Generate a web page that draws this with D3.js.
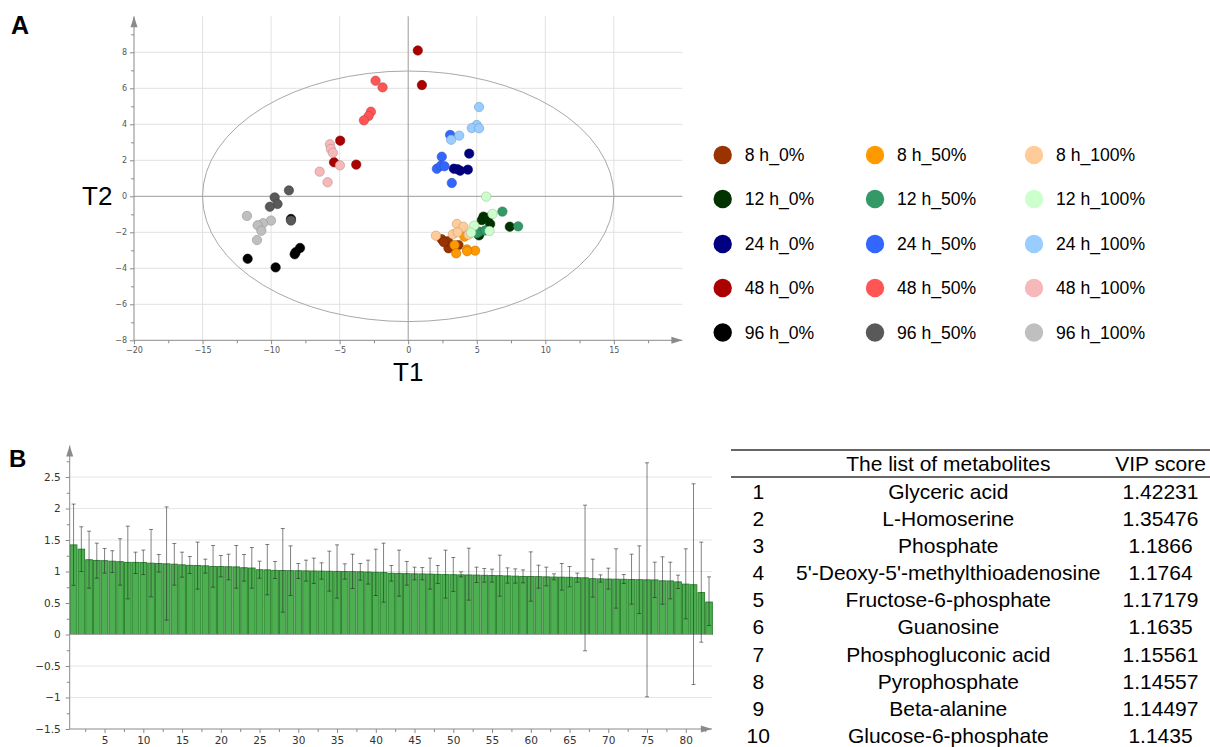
<!DOCTYPE html>
<html lang="en">
<head>
  <meta charset="UTF-8">
  <title>PLS-DA scores and VIP</title>
  <script src="https://cdn.jsdelivr.net/npm/d3@7"></script>
  <style>
    body { margin: 0; background: #fff; }
    svg { display: block; font-family: "Liberation Sans", Arial, sans-serif; }
  </style>
</head>
<body>
  <div id="chart"></div>
  <script>
    // ---- scores plot data ----
    const times = ["8 h", "12 h", "24 h", "48 h", "96 h"];
    const levels = ["0%", "50%", "100%"];
    const groupColors = [
      ["#993300", "#ff9900", "#ffcc99"],
      ["#003300", "#339966", "#ccffcc"],
      ["#000080", "#3366ff", "#99ccff"],
      ["#aa0000", "#ff5555", "#f6b8b8"],
      ["#000000", "#595959", "#bfbfbf"]
    ];
    // [T1, T2] per sample, indexed [time][level]
    const scores = [
      [
        [[2.45, -2.39], [2.94, -2.89], [2.9, -2.5], [3.67, -2.71], [2.6, -2.55]],
        [[3.38, -2.71], [4.28, -2.95], [4.88, -3.02], [3.5, -3.17], [4.1, -2.24], [4.3, -3.05]],
        [[2.02, -2.19], [3.55, -1.54], [4.03, -1.69], [3.26, -2.11], [3.6, -2.0], [4.4, -2.13]]
      ],
      [
        [[7.41, -1.69], [5.49, -1.13], [5.98, -1.54], [5.37, -1.32], [5.17, -2.17], [5.8, -1.2]],
        [[6.87, -0.85], [8.02, -1.67], [5.2, -1.97], [5.6, -1.9], [5.0, -2.05]],
        [[5.69, -0.02], [6.15, -0.98], [4.81, -1.63], [4.59, -2.02], [5.93, -1.93]]
      ],
      [
        [[4.45, 2.37], [3.33, 1.53], [3.79, 1.42], [4.35, 1.48], [3.6, 1.5]],
        [[3.06, 3.41], [2.45, 2.2], [2.09, 1.53], [2.38, 1.7], [2.65, 1.67], [3.18, 0.74]],
        [[5.17, 4.96], [5.0, 3.96], [4.64, 3.79], [5.17, 3.78], [3.72, 3.37], [3.13, 3.14]]
      ],
      [
        [[0.7, 8.1], [1.0, 6.18], [-4.96, 3.09], [-5.41, 1.89], [-3.79, 1.76]],
        [[-2.38, 6.42], [-1.87, 6.05], [-2.72, 4.7], [-2.89, 4.46], [-3.23, 4.22]],
        [[-5.71, 2.89], [-5.64, 2.63], [-5.5, 2.42], [-4.98, 1.72], [-6.46, 1.37], [-5.88, 0.78]]
      ],
      [
        [[-11.71, -3.47], [-9.67, -3.95], [-7.89, -2.87], [-8.21, -3.11], [-8.28, -3.22], [-8.55, -1.26]],
        [[-8.7, 0.33], [-9.74, -0.06], [-9.53, -0.43], [-10.09, -0.58], [-8.55, -1.35]],
        [[-11.76, -1.09], [-10.01, -1.35], [-10.59, -1.5], [-10.98, -1.61], [-10.71, -1.91], [-11.03, -2.43]]
      ]
    ];
    const ellipseT1 = 15, ellipseT2 = 6.96;

    // ---- VIP bar data (83 metabolites) ----
    const vip = [1.42231, 1.35476, 1.1866, 1.1764, 1.17179, 1.1635, 1.15561, 1.14557, 1.14497, 1.1435,
      1.132, 1.127, 1.122, 1.116, 1.106, 1.098, 1.095, 1.09, 1.08, 1.078, 1.075, 1.073, 1.06, 1.055,
      1.028, 1.026, 1.018, 1.016, 1.013, 1.012, 1.01, 1.008, 1.006, 1.004, 1.002, 1.0, 0.998, 0.996,
      0.992, 0.988, 0.986, 0.972, 0.97, 0.966, 0.963, 0.961, 0.959, 0.955, 0.951, 0.949, 0.947, 0.945,
      0.943, 0.94, 0.937, 0.934, 0.93, 0.926, 0.922, 0.92, 0.918, 0.915, 0.912, 0.91, 0.908, 0.902,
      0.9, 0.886, 0.883, 0.88, 0.878, 0.876, 0.873, 0.87, 0.868, 0.866, 0.852, 0.85, 0.835, 0.8,
      0.79, 0.665, 0.515];
    const vipHigh = [2.07, 1.71, 1.64, 1.45, 1.365, 1.33, 1.52, 1.72, 1.307, 1.34, 1.667, 1.27, 2.026, 1.444,
      1.307, 1.238, 1.466, 1.196, 1.413, 1.254, 1.275, 1.413, 1.27, 1.381, 1.164, 1.429, 1.159, 1.683,
      1.407, 1.127, 1.18, 1.212, 1.138, 1.323, 1.423, 1.122, 1.275, 1.127, 1.18, 1.354, 1.45, 1.095,
      1.339, 1.159, 1.069, 1.063, 1.212, 1.095, 1.339, 1.222, 0.995, 1.37, 1.069, 1.048, 1.037, 1.259,
      1.058, 1.042, 1.026, 1.312, 1.1, 1.069, 0.963, 1.127, 1.079, 0.974, 2.053, 1.196, 0.947, 1.053,
      1.36, 0.952, 1.275, 1.407, 2.725, 1.148, 1.233, 1.148, 0.942, 1.36, 2.392, 1.466, 0.915];
    const vipLow = [0.78, 1.0, 0.735, 0.894, 0.974, 0.984, 0.783, 0.566, 0.968, 0.952, 0.598, 0.99, 0.228, 0.783,
      0.91, 0.968, 0.72, 0.974, 0.751, 0.915, 0.868, 0.735, 0.847, 0.735, 0.894, 0.63, 0.889, 0.354,
      0.619, 0.889, 0.847, 0.81, 0.878, 0.688, 0.577, 0.878, 0.73, 0.862, 0.8, 0.619, 0.513, 0.847,
      0.608, 0.783, 0.868, 0.868, 0.72, 0.81, 0.577, 0.683, 0.915, 0.545, 0.825, 0.831, 0.831, 0.608,
      0.815, 0.815, 0.82, 0.529, 0.735, 0.772, 0.868, 0.704, 0.757, 0.831, -0.259, 0.593, 0.831, 0.72,
      0.418, 0.81, 0.481, 0.333, -0.989, 0.587, 0.481, 0.566, 0.73, 0.249, -0.794, -0.122, 0.143];

    // ---- table data ----
    const topNames = ["Glyceric acid", "L-Homoserine", "Phosphate", "5'-Deoxy-5'-methylthioadenosine",
      "Fructose-6-phosphate", "Guanosine", "Phosphogluconic acid", "Pyrophosphate", "Beta-alanine",
      "Glucose-6-phosphate"];
    const topScores = ["1.42231", "1.35476", "1.1866", "1.1764", "1.17179", "1.1635", "1.15561",
      "1.14557", "1.14497", "1.1435"];

    const W = 1210, H = 747;
    const svg = d3.select("#chart").append("svg")
      .attr("width", W).attr("height", H);

    const axisGray = "#8a8a8a";

    function arrowUp(g, x, yTop) {
      g.append("path").attr("d", `M${x - 3.5},${yTop + 11}L${x},${yTop}L${x + 3.5},${yTop + 11}Z`)
        .attr("fill", axisGray);
    }
    function arrowRight(g, xTip, y) {
      g.append("path").attr("d", `M${xTip - 11},${y - 3.5}L${xTip},${y}L${xTip - 11},${y + 3.5}Z`)
        .attr("fill", axisGray);
    }
    function styleAxis(sel, size, family, color) {
      sel.select(".domain").remove();
      sel.selectAll("line").attr("stroke", axisGray);
      sel.selectAll("text").attr("font-size", size).attr("font-family", family).attr("fill", color);
    }

    // ================= Panel A =================
    const xA = d3.scaleLinear().domain([-20, 20]).range([134, 682.4]);
    const yA = d3.scaleLinear().domain([-8, 10]).range([340.3, 16.3]);
    const gA = svg.append("g");

    // grid
    gA.selectAll(".vg").data([-15, -10, -5, 5, 10, 15]).join("line")
      .attr("x1", d => xA(d)).attr("x2", d => xA(d))
      .attr("y1", yA(-8)).attr("y2", yA(10))
      .attr("stroke", "#e2e2e2");
    gA.selectAll(".hg").data([-6, -4, -2, 2, 4, 6, 8]).join("line")
      .attr("y1", d => yA(d)).attr("y2", d => yA(d))
      .attr("x1", xA(-20)).attr("x2", xA(20))
      .attr("stroke", "#e2e2e2");
    gA.append("line").attr("x1", xA(0)).attr("x2", xA(0)).attr("y1", yA(-8)).attr("y2", yA(10))
      .attr("stroke", "#9a9a9a");
    gA.append("line").attr("x1", xA(-20)).attr("x2", xA(20)).attr("y1", yA(0)).attr("y2", yA(0))
      .attr("stroke", "#9a9a9a");

    // axes
    gA.append("g").attr("transform", `translate(${xA(-20)},0)`)
      .call(d3.axisLeft(yA).tickValues(d3.range(-8, 9, 2)).tickSize(4).tickPadding(3))
      .call(s => styleAxis(s, 8, "DejaVu Sans", "#555"));
    gA.append("g").attr("transform", `translate(${xA(-20)},0)`)
      .call(d3.axisLeft(yA).tickValues(d3.range(-7, 10, 2)).tickSize(3).tickFormat(""))
      .call(s => styleAxis(s, 8, "DejaVu Sans", "#555"));
    gA.append("g").attr("transform", `translate(0,${yA(-8)})`)
      .call(d3.axisBottom(xA).tickValues(d3.range(-20, 16, 5)).tickSize(4).tickPadding(3))
      .call(s => styleAxis(s, 8, "DejaVu Sans", "#555"));
    gA.append("g").attr("transform", `translate(0,${yA(-8)})`)
      .call(d3.axisBottom(xA).tickValues(d3.range(-17.5, 20, 5)).tickSize(3).tickFormat(""))
      .call(s => styleAxis(s, 8, "DejaVu Sans", "#555"));
    gA.append("line").attr("x1", xA(-20)).attr("x2", xA(-20)).attr("y1", yA(-8)).attr("y2", yA(10))
      .attr("stroke", axisGray);
    gA.append("line").attr("x1", xA(-20)).attr("x2", xA(20)).attr("y1", yA(-8)).attr("y2", yA(-8))
      .attr("stroke", axisGray);
    arrowUp(gA, xA(-20), yA(10));
    arrowRight(gA, xA(20), yA(-8));

    // Hotelling ellipse
    gA.append("ellipse")
      .attr("cx", xA(0)).attr("cy", yA(0))
      .attr("rx", xA(ellipseT1) - xA(0)).attr("ry", yA(0) - yA(ellipseT2))
      .attr("fill", "none").attr("stroke", "#a8a8a8").attr("stroke-width", 1);

    // points: draw level by level so lighter groups end on top
    const pts = [];
    levels.forEach((lv, li) => times.forEach((t, ti) => {
      scores[ti][li].forEach(p => pts.push({ x: p[0], y: p[1], c: groupColors[ti][li] }));
    }));
    gA.selectAll("circle.pt").data(pts).join("circle")
      .attr("class", "pt")
      .attr("cx", d => xA(d.x)).attr("cy", d => yA(d.y)).attr("r", 4.7)
      .attr("fill", d => d.c)
      .attr("stroke", d => d3.color(d.c).darker(0.8))
      .attr("stroke-opacity", 0.7)
      .attr("stroke-width", 0.8);

    gA.append("text").attr("x", xA(0)).attr("y", 381).attr("text-anchor", "middle")
      .attr("font-size", 26).text("T1");
    gA.append("text").attr("x", 82).attr("y", 205)
      .attr("font-size", 26).text("T2");
    svg.append("text").attr("x", 11).attr("y", 34).attr("font-size", 25)
      .attr("font-weight", "bold").text("A");

    // legend
    const legX = [722.7, 875, 1034];
    const legY = [155, 199, 244, 288, 332.5];
    const legItems = [];
    times.forEach((t, ti) => levels.forEach((lv, li) =>
      legItems.push({ label: `${t}_${lv}`, c: groupColors[ti][li], col: li, row: ti })));
    const leg = svg.append("g").selectAll("g").data(legItems).join("g")
      .attr("transform", d => `translate(${legX[d.col]},${legY[d.row]})`);
    leg.append("circle").attr("r", 9.2).attr("fill", d => d.c);
    leg.append("text").attr("x", 22).attr("y", 6.3).attr("font-size", 17.6)
      .text(d => d.label);

    // ================= Panel B =================
    const xB = d3.scaleLinear().domain([0.5, 83.5]).range([69.7, 712.9]);
    const yB = d3.scaleLinear().domain([-1.5, 3]).range([729, 445.5]);
    const gB = svg.append("g");

    gB.selectAll(".hg").data([-1, -0.5, 0.5, 1, 1.5, 2, 2.5]).join("line")
      .attr("x1", xB(0.5)).attr("x2", xB(83.5) - 1)
      .attr("y1", d => yB(d)).attr("y2", d => yB(d))
      .attr("stroke", "#e6e6e6");

    const idx = d3.range(1, vip.length + 1);
    gB.selectAll("rect.bar").data(idx).join("rect")
      .attr("class", "bar")
      .attr("x", i => xB(i - 0.43))
      .attr("width", i => xB(i + 0.43) - xB(i - 0.43))
      .attr("y", i => yB(vip[i - 1]))
      .attr("height", i => yB(0) - yB(vip[i - 1]))
      .attr("fill", "#4caf50")
      .attr("stroke", "#287a2c")
      .attr("stroke-width", 0.9);

    gB.append("line").attr("x1", xB(0.5)).attr("x2", xB(83.5) - 1)
      .attr("y1", yB(0)).attr("y2", yB(0)).attr("stroke", "#a0a0a0");

    const eb = gB.selectAll("g.err").data(idx).join("g").attr("class", "err")
      .attr("stroke", "rgba(40,40,40,0.58)").attr("stroke-width", 1);
    eb.append("line")
      .attr("x1", i => xB(i)).attr("x2", i => xB(i))
      .attr("y1", i => yB(vipLow[i - 1])).attr("y2", i => yB(vipHigh[i - 1]));
    eb.append("line")
      .attr("x1", i => xB(i) - 2).attr("x2", i => xB(i) + 2)
      .attr("y1", i => yB(vipHigh[i - 1])).attr("y2", i => yB(vipHigh[i - 1]));
    eb.append("line")
      .attr("x1", i => xB(i) - 2).attr("x2", i => xB(i) + 2)
      .attr("y1", i => yB(vipLow[i - 1])).attr("y2", i => yB(vipLow[i - 1]));

    gB.append("g").attr("transform", `translate(${xB(0.5)},0)`)
      .call(d3.axisLeft(yB).tickValues(d3.range(-1.5, 2.51, 0.5)).tickSize(4).tickPadding(5)
        .tickFormat(d3.format("")))
      .call(s => styleAxis(s, 10.5, "DejaVu Sans", "#333"));
    gB.append("g").attr("transform", `translate(${xB(0.5)},0)`)
      .call(d3.axisLeft(yB).tickValues(d3.range(-1.25, 2.8, 0.5)).tickSize(3).tickFormat(""))
      .call(s => styleAxis(s, 10, "DejaVu Sans", "#333"));
    gB.append("g").attr("transform", `translate(0,${yB(-1.5)})`)
      .call(d3.axisBottom(xB).tickValues(d3.range(5, 81, 5)).tickSize(4).tickPadding(4))
      .call(s => styleAxis(s, 10.5, "DejaVu Sans", "#333"));
    gB.append("g").attr("transform", `translate(0,${yB(-1.5)})`)
      .call(d3.axisBottom(xB).tickValues(d3.range(2.5, 83, 5)).tickSize(3).tickFormat(""))
      .call(s => styleAxis(s, 10, "DejaVu Sans", "#333"));
    gB.append("line").attr("x1", xB(0.5)).attr("x2", xB(0.5)).attr("y1", yB(-1.5)).attr("y2", yB(3))
      .attr("stroke", axisGray);
    gB.append("line").attr("x1", xB(0.5)).attr("x2", xB(83.5) - 1).attr("y1", yB(-1.5)).attr("y2", yB(-1.5))
      .attr("stroke", axisGray);
    arrowUp(gB, xB(0.5), yB(3));
    arrowRight(gB, xB(83.5) - 1, yB(-1.5));

    svg.append("text").attr("x", 9).attr("y", 467).attr("font-size", 24)
      .attr("font-weight", "bold").text("B");

    // ================= Table =================
    const tb = svg.append("g").attr("font-size", 21).attr("fill", "#000");
    const colNum = 758.3, colName = 948.3, colScore = 1160.5;
    const rowY = d3.scaleLinear().domain([1, 10]).range([491.7, 735.2]);
    tb.append("line").attr("x1", 731).attr("x2", 1210).attr("y1", 450).attr("y2", 450)
      .attr("stroke", "#333").attr("stroke-width", 1.3);
    tb.append("line").attr("x1", 731).attr("x2", 1210).attr("y1", 477).attr("y2", 477)
      .attr("stroke", "#333").attr("stroke-width", 1.3);
    tb.append("text").attr("x", colName).attr("y", 471).attr("text-anchor", "middle")
      .text("The list of metabolites");
    tb.append("text").attr("x", colScore).attr("y", 471).attr("text-anchor", "middle")
      .text("VIP score");
    const rows = tb.selectAll("g.row").data(topNames).join("g").attr("class", "row")
      .attr("transform", (d, i) => `translate(0,${rowY(i + 1) + 7.5})`);
    rows.append("text").attr("x", colNum).attr("text-anchor", "middle").text((d, i) => i + 1);
    rows.append("text").attr("x", colName).attr("text-anchor", "middle").text(d => d);
    rows.append("text").attr("x", colScore).attr("text-anchor", "middle").text((d, i) => topScores[i]);
  </script>
</body>
</html>
